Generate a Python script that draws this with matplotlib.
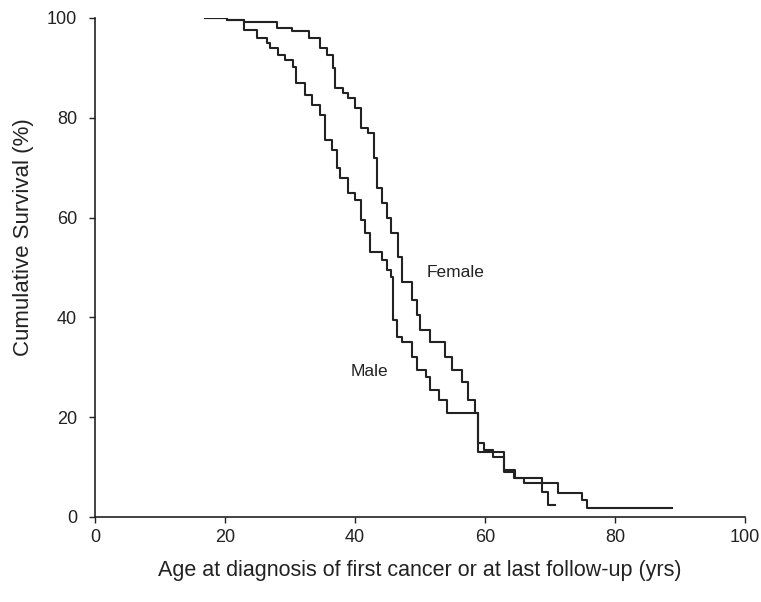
import matplotlib.pyplot as plt

plt.rcParams['font.family'] = ['Liberation Sans', 'DejaVu Sans']

# step points: age where the survival changes, survival (%) after that age
female_age = [17, 20.3, 23, 28, 30.3, 33, 34.6, 35.7, 36.6, 37, 38.2, 39, 40, 41, 42, 43,
              43.4, 44.2, 45, 45.5, 46.6, 47.2, 48.8, 49.5, 50, 51.5, 53.8, 55, 56.5, 57.4,
              58.5, 59, 63, 64.5, 66, 71.2, 75, 75.7, 88.8]
female_surv = [100, 99.5, 99.2, 98, 97.4, 96, 94, 92.6, 90, 86, 85, 84, 82, 78, 77, 72,
               66, 63, 60, 57, 52, 47, 43.5, 40.5, 37.5, 35, 32, 29.5, 27, 23.4,
               20.8, 13, 9, 7.8, 6.8, 4.8, 3.4, 1.8, 1.8]

male_age = [17, 20.3, 23, 25, 26.5, 27, 28.2, 29.2, 30.5, 31, 32.3, 33.4, 34.6, 35.4, 36.5,
            37.2, 37.7, 38.9, 40, 41, 41.5, 42.3, 44.2, 45, 45.5, 45.8, 46.5, 47.2, 48.8,
            49.5, 51, 51.5, 53, 54.2, 59, 59.8, 61.2, 63, 64.6, 68.8, 69.7, 70.8]
male_surv = [100, 99.5, 97.6, 96, 95, 94, 92.6, 91.6, 90.2, 87, 84.6, 82.5, 80.5, 75.5, 73.5,
             70, 68, 65, 63.5, 59.5, 57, 53, 51.5, 49.5, 48, 39.5, 36, 35, 32,
             29.5, 28, 25.5, 23.4, 20.8, 14.8, 13.4, 12, 9.4, 7.8, 5, 2.4, 2.4]

ticks = [0, 20, 40, 60, 80, 100]

fig = plt.figure(figsize=(7.61, 6.02), dpi=100)
ax = fig.add_axes([0.1248, 0.1412, 0.854, 0.829])

ax.step(female_age, female_surv, where='post', color='#222222', lw=1.5)
ax.step(male_age, male_surv, where='post', color='#222222', lw=1.5)

ax.text(55.5, 48.9, 'Female', fontsize=12.5, ha='center', va='center', color='#222222')
ax.text(42.2, 29.2, 'Male', fontsize=12.5, ha='center', va='center', color='#222222')

ax.set_xlim(0, 100)
ax.set_ylim(0, 100)
ax.set_xticks(ticks)
ax.set_yticks(ticks)
ax.tick_params(direction='out', length=4, width=1, labelsize=13, colors='#222222')
ax.tick_params(axis='y', pad=9)
ax.tick_params(axis='x', pad=5)

for side in ['top', 'right']:
    ax.spines[side].set_visible(False)
for side in ['left', 'bottom']:
    ax.spines[side].set_color('#222222')
    ax.spines[side].set_linewidth(1.2)

ax.set_xlabel('Age at diagnosis of first cancer or at last follow-up (yrs)', fontsize=15.5,
              labelpad=10, color='#222222')
ax.set_ylabel('Cumulative Survival (%)', fontsize=16, color='#222222')
ax.yaxis.set_label_coords(-0.094, 0.56)

fig.savefig('out.png', dpi=100)
